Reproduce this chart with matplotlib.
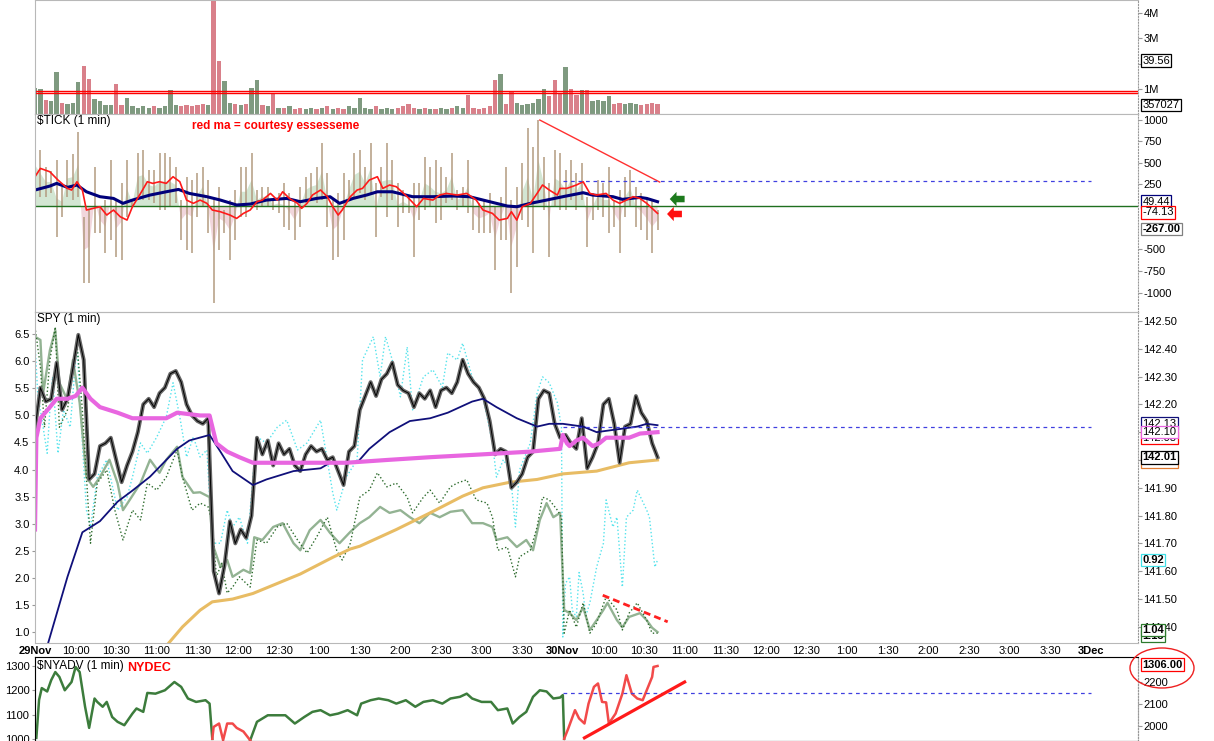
import numpy as np
import matplotlib
matplotlib.use("Agg")
import matplotlib.pyplot as plt
import matplotlib.transforms as mtransforms
from matplotlib.patches import Ellipse, FancyArrow

plt.rcParams['font.family'] = ['Liberation Sans', 'DejaVu Sans']
plt.rcParams['font.size'] = 8
plt.rcParams['axes.unicode_minus'] = False

# time is minutes from the 29Nov open, 30Nov opens at minute 390
# 4-minute samples of the 1-min series
SPY = [142.11, 142.26, 142.21, 142.22, 142.35, 142.18, 142.22, 142.33, 142.45, 142.36,
       141.93, 141.95, 142.05, 142.06, 142.08, 142.00, 141.92, 141.98, 142.03, 142.10,
       142.20, 142.22, 142.19, 142.24, 142.26, 142.31, 142.32, 142.28, 142.20, 142.16,
       142.14, 142.13, 142.15, 141.60, 141.52, 141.62, 141.78, 141.70, 141.75, 141.72,
       141.80, 142.08, 142.02, 142.07, 141.98, 142.06, 142.02, 142.04, 141.98, 141.96,
       142.02, 142.05, 142.03, 142.04, 142.00, 142.01, 141.96, 141.91, 142.03, 142.05,
       142.18, 142.23, 142.28, 142.23, 142.29, 142.31, 142.35, 142.27, 142.25, 142.24,
       142.19, 142.24, 142.22, 142.25, 142.19, 142.25, 142.26, 142.24, 142.28, 142.36,
       142.31, 142.28, 142.26, 142.22, 142.14, 142.02, 142.04, 142.03, 141.90, 141.92,
       141.95, 142.01, 142.03, 142.22, 142.25, 142.24, 142.13, 142.08, 142.09, 142.06,
       142.04, 142.15, 141.97, 142.01, 142.06, 142.20, 142.22, 142.13, 141.99, 142.12,
       142.13, 142.23, 142.17, 142.14, 142.06, 142.01]

VOL = [1.05, 1.0, 0.55, 0.5, 1.65, 0.45, 0.4, 0.45, 1.25, 1.9,
       1.4, 0.6, 0.5, 0.35, 0.35, 1.2, 0.35, 0.65, 0.3, 0.25,
       0.3, 0.25, 0.3, 0.25, 0.3, 0.95, 0.35, 0.3, 0.35, 0.3,
       0.35, 0.4, 0.35, 4.6, 2.1, 1.3, 0.45, 0.4, 0.35, 0.4,
       1.05, 1.35, 0.35, 0.3, 0.85, 0.25, 0.25, 0.3, 0.2, 0.25,
       0.2, 0.25, 0.2, 0.25, 0.3, 0.2, 0.25, 0.2, 0.3, 0.25,
       0.65, 0.25, 0.2, 0.3, 0.2, 0.25, 0.2, 0.25, 0.3, 0.4,
       0.25, 0.2, 0.25, 0.2, 0.2, 0.25, 0.2, 0.25, 0.3, 0.25,
       0.75, 0.25, 0.2, 0.25, 0.3, 1.35, 1.6, 0.4, 0.9, 0.45,
       0.35, 0.4, 0.45, 0.6, 1.0, 0.7, 1.35, 0.8, 1.85, 1.0,
       0.75, 0.95, 0.95, 0.5, 0.55, 0.5, 0.7, 0.4, 0.45, 0.4,
       0.45, 0.4, 0.35, 0.4, 0.45, 0.4]

TICK_HI = [724, 647, 454, 400, 531, 223, 531, 600, 860, -124,
           -46, 454, -8, 69, 531, 69, 262, 531, 69, 609,
           647, 416, 416, 609, 609, 570, 454, 69, 339, 300,
           377, 454, 300, 69, 223, -46, 69, 185, 454, 454,
           609, 185, 223, 223, 69, 146, 262, 146, 69, 223,
           339, 377, 454, 724, 377, 69, 146, 377, 300, 609,
           647, 454, 724, 262, 454, 724, 531, 262, 185, 108,
           262, 262, 570, 454, 531, 454, 339, 609, 185, 223,
           531, 108, 31, 69, 146, -8, 108, 454, 69, 223,
           493, 898, 686, 994, 570, 262, 647, 609, 416, 531,
           377, 493, 108, 146, 300, 262, 454, 69, 185, 339,
           416, 223, 146, 108, 69, -46]

TICK_LO = [223, 108, 108, 150, -355, -124, 108, 69, 100, -894,
           -894, -316, -316, -547, -393, -586, -624, -124, -8, 69,
           69, 69, 31, -46, -46, -8, 31, -393, -509, -547,
           -124, -8, -316, -1125, -509, -316, -624, -393, -124, -124,
           -8, -46, -8, -8, -46, -85, -239, -278, -393, -239,
           31, 69, 31, 69, -239, -624, -586, -393, 69, 108,
           146, 69, 146, -355, 108, -124, 69, -239, -85, -85,
           -586, -162, -46, -8, -201, -162, 31, 69, -46, -8,
           -85, -278, -316, -316, -316, -740, -393, -393, -1010, -701,
           -162, -239, -547, 69, -46, -586, -8, -46, -46, 69,
           -46, 69, -470, -162, -46, -124, -316, -239, -547, -124,
           -8, -239, -278, -393, -547, -278]

# TICK moving averages
TRED_T = [0, 4, 11, 17, 24, 27, 31, 35, 38, 43, 48, 53, 58, 63, 68, 72, 78, 83, 87, 92,
          97, 102, 107, 112, 117, 122, 127, 131, 137, 144, 149, 154, 159, 164, 168, 174,
          179, 183, 188, 194, 197, 201, 205, 211, 216, 220, 224, 227, 233, 238, 242, 247,
          253, 257, 262, 267, 275, 282, 287, 294, 299, 304, 312, 319, 326, 331, 338, 343,
          349, 352, 356, 360, 366, 371, 375, 380, 386, 388, 393, 400, 405, 410, 415, 422,
          427, 432, 437, 442, 447, 452, 456, 460]
TRED_V = [339, 435, 396, 300, 204, 185, 281, 185, -46, -27, -8, -104, -46, -124, -162, -8,
          146, 281, 262, 281, 262, 339, 281, 69, 31, 69, 31, -46, -66, -104, -143, -85,
          -46, 50, 69, 146, 69, 165, 88, 31, -27, 31, 127, 185, 108, -8, -104, -46, 108,
          185, 204, 300, 339, 204, 243, 223, 108, -8, 88, 69, 127, 146, 127, 146, 69, -46,
          -85, -162, -143, -66, -162, -8, 31, 146, 243, 185, 127, 204, 204, 243, 281, 146,
          127, 146, 69, 31, 69, 108, 88, 31, -27, -85]
TBLUE_T = [0, 11, 16, 24, 31, 38, 48, 58, 65, 72, 85, 97, 106, 114, 127, 137, 149, 159,
           171, 186, 196, 208, 218, 225, 235, 245, 253, 264, 279, 294, 309, 321, 336, 349,
           356, 366, 378, 390, 405, 412, 427, 434, 447, 452, 460]
TBLUE_V = [185, 231, 262, 216, 243, 165, 108, 88, 31, 69, 127, 165, 192, 146, 108, 69, 12,
           23, 69, 88, 50, 88, 108, 31, 88, 127, 165, 165, 108, 108, 116, 108, 50, 0, -8,
           31, 69, 108, 154, 127, 108, 77, 100, 88, 50]

# SPY overlays on the price scale
PINK_T = [0, 1, 4, 11, 16, 24, 30, 35, 41, 48, 61, 72, 85, 97, 105, 122, 129, 134, 142,
          151, 161, 171, 200, 230, 260, 292, 330, 366, 388,
          390, 393, 395, 400, 405, 412, 417, 422, 430, 439, 447, 460]
PINK_V = [141.75, 142.08, 142.15, 142.19, 142.22, 142.22, 142.23, 142.26, 142.22, 142.19,
          142.17, 142.15, 142.15, 142.15, 142.17, 142.16, 142.16, 142.06, 142.03, 142.01,
          141.99, 141.99, 141.99, 141.99, 142.00, 142.01, 142.02, 142.03, 142.04,
          142.09, 142.06, 142.05, 142.07, 142.08, 142.05, 142.06, 142.08, 142.08, 142.08,
          142.095, 142.10]
NAVY_T = [9, 24, 35, 48, 61, 72, 85, 97, 105, 114, 129, 137, 146, 161, 171, 191, 211, 218,
          238, 247, 262, 277, 292, 305, 323, 331, 341, 356, 371, 380, 390, 405, 415, 430,
          445, 452, 460]
NAVY_V = [141.33, 141.58, 141.74, 141.78, 141.85, 141.89, 141.94, 142.00, 142.04, 142.07,
          142.09, 142.03, 141.96, 141.91, 141.93, 141.96, 141.97, 141.99, 141.99, 142.04,
          142.10, 142.14, 142.15, 142.17, 142.21, 142.22, 142.19, 142.15, 142.12, 142.13,
          142.13, 142.12, 142.10, 142.11, 142.12, 142.13, 142.125]
GOLD_T = [95, 109, 122, 131, 146, 161, 171, 196, 220, 233, 240, 267, 292, 316, 331, 351,
          371, 390, 415, 439, 460]
GOLD_V = [141.32, 141.40, 141.46, 141.49, 141.50, 141.52, 141.54, 141.59, 141.65, 141.68,
          141.69, 141.75, 141.81, 141.87, 141.90, 141.92, 141.93, 141.95, 141.96, 141.99,
          142.00]

# SPY overlays on the left scale
CYAN_T = [0, 2, 6, 9, 11, 13, 17, 21, 26, 31, 35, 38, 41, 46, 53, 61, 68, 72, 78, 83, 90,
          97, 102, 107, 112, 117, 122, 127, 131, 137, 142, 146, 151, 157, 161, 164, 171,
          179, 186, 194, 201, 211, 220, 223, 230, 238, 242, 250, 255, 259, 264, 270, 275,
          279, 287, 294, 301, 305, 312, 316, 323, 331, 338, 341, 346, 351, 355, 358, 366,
          371, 375, 380, 386, 389,
          390, 392, 395, 397, 400, 402, 405, 407, 410, 415, 420, 422, 427, 430, 434, 437,
          442, 445, 452, 454, 458, 460]
CYAN_V = [6.33, 5.41, 4.78, 4.30, 5.10, 5.71, 4.30, 5.10, 4.78, 6.33, 4.49, 3.25, 2.94,
          3.86, 4.18, 3.25, 3.49, 3.86, 4.49, 4.30, 4.60, 4.97, 5.60, 4.97, 4.23, 4.60,
          4.23, 4.36, 2.64, 2.64, 3.25, 2.94, 3.12, 2.64, 3.86, 4.60, 4.49, 4.78, 4.91,
          4.36, 4.49, 4.91, 3.57, 3.25, 3.86, 4.18, 6.02, 6.45, 5.71, 6.45, 6.02, 5.34,
          6.26, 5.10, 5.71, 5.84, 5.52, 6.15, 6.02, 6.33, 5.71, 5.34, 4.49, 3.86, 4.18,
          3.99, 2.94, 3.99, 4.49, 5.41, 5.71, 5.60, 5.23, 4.78,
          0.91, 1.90, 2.02, 1.40, 1.28, 2.10, 1.72, 1.30, 1.54, 2.20, 2.64, 3.44, 2.94,
          3.12, 1.83, 3.12, 3.25, 3.62, 3.25, 3.12, 2.20, 2.33]
SAGE_T = [0, 4, 6, 11, 15, 18, 24, 28, 33, 38, 43, 48, 55, 61, 65, 70, 78, 85, 92, 97,
          105, 109, 117, 122, 129, 131, 137, 142, 146, 154, 159, 162, 168, 176, 183, 191,
          196, 203, 211, 218, 225, 233, 240, 247, 255, 262, 270, 277, 284, 292, 299, 307,
          316, 323, 331, 338, 341, 349, 356, 363, 368, 373, 378, 383, 388,
          391, 395, 400, 405, 410, 415, 420, 423, 430, 434, 439, 447, 452, 456, 460]
SAGE_V = [6.45, 6.39, 5.41, 6.20, 6.57, 5.60, 5.28, 6.02, 5.23, 3.86, 3.68, 3.86, 4.18,
          3.75, 3.25, 3.44, 3.75, 4.18, 3.94, 4.18, 4.42, 3.86, 3.57, 3.58, 3.49, 2.64,
          2.20, 2.33, 2.02, 2.15, 2.09, 2.75, 2.70, 2.94, 3.01, 2.64, 2.51, 2.88, 3.07,
          2.83, 2.64, 2.85, 3.01, 3.12, 3.31, 3.20, 3.25, 3.12, 3.01, 3.20, 3.12, 3.22,
          3.25, 3.01, 3.01, 2.94, 2.70, 2.75, 2.57, 2.70, 2.51, 3.07, 3.38, 3.12, 3.20,
          1.41, 1.35, 1.22, 1.46, 1.04, 1.22, 1.41, 1.54, 1.22, 1.09, 1.28, 1.35, 1.22,
          1.08, 1.00]
DGREEN_T = [0, 4, 7, 11, 15, 18, 24, 31, 35, 41, 46, 53, 59, 65, 72, 78, 83, 90, 97, 105,
            109, 116, 122, 128, 131, 134, 138, 142, 146, 151, 159, 164, 171, 179, 186, 194,
            201, 208, 216, 223, 227, 233, 240, 247, 253, 260, 267, 275, 279, 287, 292, 299,
            307, 312, 319, 326, 334, 338, 342, 349, 355, 358, 366, 371, 375, 380, 386, 389,
            391, 395, 400, 405, 410, 415, 422, 430, 434, 439, 445, 452, 456, 460]
DGREEN_V = [6.63, 5.89, 4.78, 6.02, 6.63, 4.78, 5.10, 6.33, 5.10, 2.64, 3.75, 3.99, 3.25,
            2.70, 3.25, 3.07, 3.75, 3.62, 3.86, 4.36, 3.86, 3.25, 3.38, 3.31, 3.01, 2.02,
            2.27, 1.72, 1.83, 2.02, 1.83, 2.70, 2.64, 2.94, 3.01, 2.70, 2.46, 2.75, 3.12,
            2.50, 2.33, 2.64, 3.49, 3.62, 3.94, 3.68, 3.75, 3.49, 3.20, 3.49, 3.62, 3.38,
            3.68, 3.75, 3.81, 3.44, 3.38, 3.12, 2.51, 2.57, 2.02, 2.39, 2.51, 2.94, 3.49,
            3.44, 3.25, 3.12,
            0.98, 1.41, 1.09, 1.54, 0.98, 1.17, 1.65, 1.41, 1.04, 1.35, 1.54, 1.22, 0.98,
            0.98]

NYADV_T = [1, 3, 5, 9, 12, 15, 18, 22, 27, 30, 33, 37, 40, 44, 46, 50, 53, 57, 61, 66,
           72, 75, 80, 83, 89, 96, 103, 108, 113, 119, 126, 129, 131,
           132, 136, 139, 142, 146, 149, 154, 159,
           164, 172, 179, 185, 192, 199, 205, 211, 218, 224, 231, 238, 241, 248, 254, 261,
           267, 274, 281, 287, 294, 301, 307, 314, 319, 323, 330, 337, 342, 349, 353, 358,
           363, 368, 373, 378, 383, 388, 390,
           391, 394, 399, 402, 406, 409, 413, 416, 419, 422, 424, 429, 434, 437, 441, 445,
           449, 452, 456, 457, 460]
NYADV_V = [1004, 1160, 1209, 1195, 1242, 1275, 1255, 1200, 1234, 1296, 1275, 1132, 1045,
           1166, 1152, 1132, 1152, 1090, 1070, 1056, 1104, 1125, 1111, 1189, 1186, 1200,
           1234, 1214, 1166, 1152, 1159, 1145, 1000,
           1049, 1063, 994, 1063, 1063, 1045, 1030, 994,
           1070, 1097, 1097, 1097, 1063, 1090, 1111, 1118, 1097, 1104, 1118, 1097, 1145,
           1159, 1166, 1159, 1145, 1159, 1132, 1152, 1159, 1145, 1166, 1173, 1186, 1166,
           1152, 1152, 1118, 1125, 1063, 1090, 1111, 1173, 1200, 1195, 1166, 1170, 1180,
           1000, 1042, 1118, 1084, 1063, 1145, 1214, 1228, 1152, 1150, 1063, 1104, 1186,
           1262, 1186, 1166, 1159, 1200, 1255, 1296, 1300]
NYDEC_SPANS = [(131, 159), (391, 470)]

X_TICKS = list(range(0, 781, 30))
X_LABELS = ['29Nov', '10:00', '10:30', '11:00', '11:30', '12:00', '12:30', '1:00', '1:30',
            '2:00', '2:30', '3:00', '3:30', '30Nov', '10:00', '10:30', '11:00', '11:30',
            '12:00', '12:30', '1:00', '1:30', '2:00', '2:30', '3:00', '3:30', '3Dec']

W, H = 1214, 741
GRID = '#b8b8b8'
fig = plt.figure(figsize=(W / 100, H / 100), dpi=100)


def panel(top, bottom):
    ax = fig.add_axes([35 / W, 1 - bottom / H, (1138 - 35) / W, (bottom - top) / H])
    ax.set_xlim(0, 815)
    for s in ax.spines.values():
        s.set_color(GRID)
    ax.spines['right'].set_linestyle(':')
    ax.spines['right'].set_color('#999999')
    ax.tick_params(axis='x', bottom=False, labelbottom=False)
    ax.tick_params(axis='y', which='both', length=3, pad=1, color='#999999', labelsize=8)
    return ax


def tag(ax, value, text, edge, bold=False, z=5, ytrans=None):
    tr = mtransforms.blended_transform_factory(ax.transAxes, (ytrans or ax).transData)
    ax.text(1.004, value, text, transform=tr, ha='left', va='center', fontsize=8,
            fontweight='bold' if bold else 'normal', clip_on=False, zorder=z,
            bbox=dict(boxstyle='square,pad=0.12', fc='white', ec=edge, lw=0.9))


def ftext(x, y, s, **kw):
    fig.text(x / W, 1 - y / H, s, va='center', ha='left', **kw)


T4 = np.arange(len(SPY)) * 4
spy = np.array(SPY)

# ---- volume ----
ax_v = panel(0, 114)
ax_v.yaxis.tick_right()
up = np.diff(spy, prepend=spy[0]) >= 0
ax_v.bar(T4, VOL, width=3.2, color=np.where(up, '#7f9a80', '#d9808a'), linewidth=0)
ax_v.axhline(0.92, color='red', lw=1)
ax_v.axhline(0.83, color='red', lw=1)
ax_v.set_ylim(0, 4.52)
ax_v.set_yticks([1, 2, 3, 4])
ax_v.set_yticklabels(['1M', '2M', '3M', '4M'])
tag(ax_v, 2.12, '39.56', 'black')
tag(ax_v, 0.357, '357027', 'black')

# ---- $TICK ----
ax_t = panel(114, 312)
ax_t.yaxis.tick_right()
mid = (np.array(TICK_HI) + np.array(TICK_LO)) / 2
ax_t.fill_between(T4, 0, mid, where=mid >= 0, interpolate=True, color='#d3e6d3', lw=0)
ax_t.fill_between(T4, 0, mid, where=mid < 0, interpolate=True, color='#f1d6dc', lw=0)
ax_t.vlines(T4, TICK_LO, TICK_HI, color='#b39b80', lw=1.1)
ax_t.axhline(0, color='#1f6f1f', lw=1)
ax_t.plot(TBLUE_T, TBLUE_V, color='#00007a', lw=2.2)
ax_t.plot(TRED_T, TRED_V, color='#ff1a1a', lw=1.2)
ax_t.plot([373, 461.6], [994, 277], color='#ff3030', lw=1)
ax_t.hlines(289, 390, 780, colors='#4040e0', linestyles=(0, (3, 3)), lw=0.9)
ax_t.add_patch(FancyArrow(480, 81, -11, 0, width=75, head_width=165, head_length=5,
                          length_includes_head=True, fc='#1d7a1d', ec='none'))
ax_t.add_patch(FancyArrow(478, -92, -11, 0, width=75, head_width=165, head_length=5,
                          length_includes_head=True, fc='#ff1010', ec='none'))
ax_t.set_ylim(-1225, 1064)
ax_t.set_yticks([1000, 750, 500, 250, -500, -750, -1000])
tag(ax_t, 49.44, '49.44', '#00007a')
tag(ax_t, -74.13, '-74.13', 'red')
tag(ax_t, -267, '-267.00', '#808080', bold=True)
ftext(37, 121, '$TICK (1 min)', fontsize=8.5)
ftext(192, 126, 'red ma = courtesy essesseme', color='#ff0000', fontweight='bold', fontsize=8.5)

# ---- SPY ----
ax_s = panel(312, 643)
ax_l = ax_s.twinx()
ax_s.yaxis.tick_right()
ax_l.yaxis.tick_left()
ax_l.set_zorder(ax_s.get_zorder() - 1)
ax_s.patch.set_visible(False)
ax_l.patch.set_visible(False)
for s in ax_l.spines.values():
    s.set_visible(False)
ax_l.tick_params(axis='y', length=2, pad=2, color='#999999', labelsize=8)

ax_l.plot(CYAN_T, CYAN_V, color='#55e3ec', lw=1, ls=':')
ax_l.plot(SAGE_T, SAGE_V, color='#93b393', lw=1.7)
ax_l.plot(DGREEN_T, DGREEN_V, color='#2d6b2d', lw=1, ls=':')
ax_l.plot([419.5, 467.5], [1.68, 1.19], color='#ff2020', lw=2, ls=(0, (2.5, 1.5)))
ax_l.set_ylim(0.799, 6.906)
ax_l.set_yticks(np.arange(1.0, 6.51, 0.5))
ax_l.yaxis.set_major_formatter('{x:.1f}')

ax_s.plot(GOLD_T, GOLD_V, color='#e8bc64', lw=2.2)
ax_s.plot(T4, spy, color='#666666', lw=2.8, solid_joinstyle='round')
ax_s.plot(T4, spy, color='black', lw=0.7)
ax_s.plot(NAVY_T, NAVY_V, color='#10107a', lw=1.3)
ax_s.plot(PINK_T, PINK_V, color='#e866e0', lw=3)
ax_s.hlines(142.12, 390, 780, colors='#4040e0', linestyles=(0, (3, 3)), lw=0.9)
ax_s.set_ylim(141.342, 142.532)
ax_s.set_yticks(np.arange(141.4, 142.51, 0.1))
ax_s.yaxis.set_major_formatter('{x:.2f}')

ax_s.tick_params(axis='x', bottom=True, labelbottom=True, length=0, pad=2, labelsize=8)
ax_s.set_xticks(X_TICKS)
ax_s.set_xticklabels(X_LABELS)
for lab in ax_s.get_xticklabels():
    if 'Nov' in lab.get_text() or 'Dec' in lab.get_text():
        lab.set_fontweight('bold')

tag(ax_s, 142.13, '142.13', '#10107a')
tag(ax_s, 142.08, '142.08', 'red')
tag(ax_s, 142.10, '142.10', '#e866e0')
tag(ax_s, 141.995, '142.00', '#e07a30')
tag(ax_s, 142.01, '142.01', 'black', bold=True)
tag(ax_s, 2.33, '0.92', '#40e0e8', bold=True, ytrans=ax_l)
tag(ax_s, 0.93, '1.13', '#2d7a2d', bold=True, ytrans=ax_l)
tag(ax_s, 1.04, '1.04', '#2d7a2d', bold=True, ytrans=ax_l)
ftext(37, 319, 'SPY (1 min)', fontsize=8.5)

# ---- $NYADV ----
ax_n = panel(657, 741)
ax_n2 = ax_n.twinx()
ax_n2.spines['right'].set_linestyle(':')
ax_n2.spines['right'].set_color('#999999')
ax_n2.tick_params(axis='y', length=3, pad=1, color='#999999', labelsize=8)
ax_n.tick_params(axis='y', length=2, pad=2)
nt = np.array(NYADV_T)
nv = np.array(NYADV_V, dtype=float)
red_in = np.zeros(len(nt), bool)
red_cl = np.zeros(len(nt), bool)
for a, b in NYDEC_SPANS:
    red_in |= (nt > a) & (nt < b)
    red_cl |= (nt >= a) & (nt <= b)
ax_n.plot(nt, np.where(red_in, np.nan, nv), color='#3c7c3c', lw=1.8)
ax_n.plot(nt, np.where(red_cl, nv, np.nan), color='#f24a4a', lw=1.8)
ax_n.hlines(1189, 390, 780, colors='#4040e0', linestyles=(0, (3, 3)), lw=0.9)
ax_n.plot([406, 480], [1004, 1234], color='#ff1a1a', lw=2.3)
ax_n.set_ylim(991, 1337)
ax_n.set_yticks([1000, 1100, 1200, 1300])
ax_n2.set_ylim(1932, 2314)
ax_n2.set_yticks([2000, 2100, 2200])
tag(ax_n2, 1306, '1306.00', 'red', bold=True, ytrans=ax_n)
ftext(37, 666, '$NYADV (1 min)', fontsize=8.5)
ftext(127, 668, 'NYDEC', color='#ff0000', fontweight='bold', fontsize=9)

fig.add_artist(Ellipse((1162 / W, 1 - 668 / H), 64 / W, 40 / H, transform=fig.transFigure,
                       fill=False, ec='#ee2020', lw=1))

fig.savefig('out.png', dpi=100, facecolor='white')
